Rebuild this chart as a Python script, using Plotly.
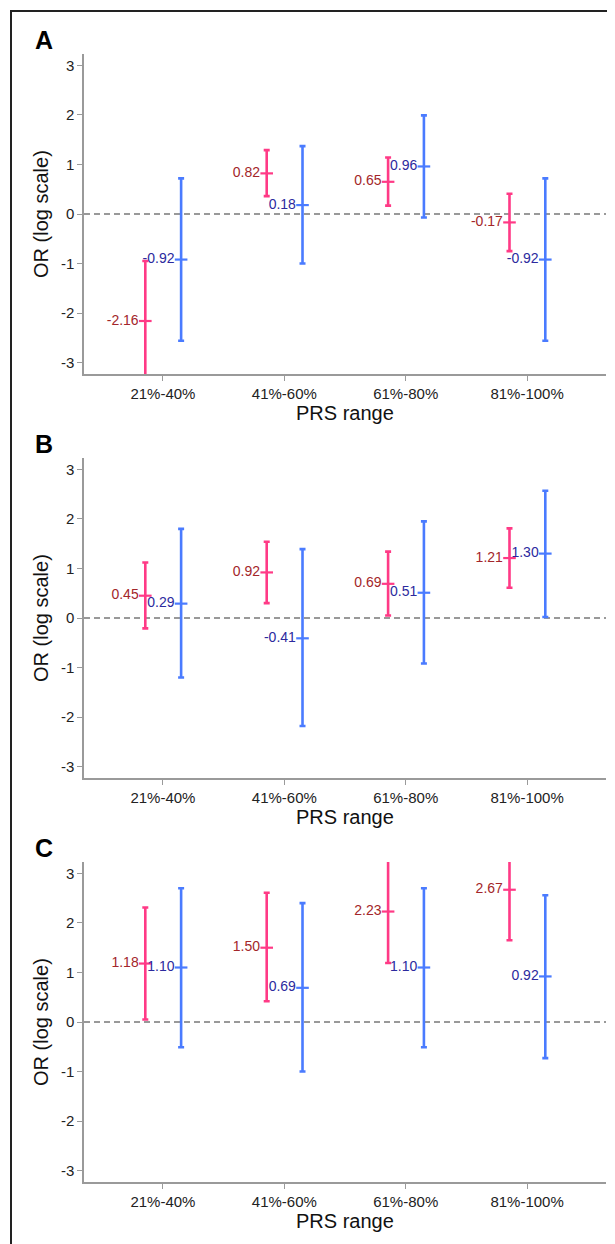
import plotly.graph_objects as go

# page has an 8px body margin; figure is sized/positioned to compensate
OFF = 8
W, H = 615 - OFF, 1244 - OFF

categories = ["21%-40%", "41%-60%", "61%-80%", "81%-100%"]
panels = ["A", "B", "C"]

# Panel A
a_red = [-2.16, 0.82, 0.65, -0.17]
a_red_lo = [-3.37, 0.36, 0.17, -0.75]
a_red_hi = [-0.95, 1.29, 1.14, 0.41]
a_blue = [-0.92, 0.18, 0.96, -0.92]
a_blue_lo = [-2.56, -1.00, -0.07, -2.56]
a_blue_hi = [0.72, 1.37, 1.99, 0.72]

# Panel B
b_red = [0.45, 0.92, 0.69, 1.21]
b_red_lo = [-0.21, 0.30, 0.05, 0.61]
b_red_hi = [1.12, 1.54, 1.34, 1.81]
b_blue = [0.29, -0.41, 0.51, 1.30]
b_blue_lo = [-1.20, -2.18, -0.92, 0.02]
b_blue_hi = [1.80, 1.39, 1.95, 2.57]

# Panel C
c_red = [1.18, 1.50, 2.23, 2.67]
c_red_lo = [0.05, 0.42, 1.19, 1.65]
c_red_hi = [2.31, 2.61, 3.28, 3.69]
c_blue = [1.10, 0.69, 1.10, 0.92]
c_blue_lo = [-0.51, -1.00, -0.51, -0.73]
c_blue_hi = [2.70, 2.40, 2.70, 2.56]

data = [
    (a_red, a_red_lo, a_red_hi, a_blue, a_blue_lo, a_blue_hi),
    (b_red, b_red_lo, b_red_hi, b_blue, b_blue_lo, b_blue_hi),
    (c_red, c_red_lo, c_red_hi, c_blue, c_blue_lo, c_blue_hi),
]

y_ticks = [-3, -2, -1, 0, 1, 2, 3]
YR = [-3.23, 3.23]
XR = [0.35, 4.65]
RED_OFF, BLUE_OFF = -0.145, 0.15

PINK = "#FF3A86"
BLUE = "#4A7BFF"
RED_TXT = "#A3262A"
BLUE_TXT = "#2C2A9E"
AXIS_COL = "#9A9A9A"
FONT = "Liberation Sans, Arial, sans-serif"

# target page-pixel layout of the three plot areas (top, bottom)
px_left, px_right = 84 - OFF, 606 - OFF
panel_px = [(54 - OFF, 374 - OFF), (458 - OFF, 778 - OFF), (862 - OFF, 1182 - OFF)]

fig = go.Figure()
annotations = []
shapes = []

for i, (name, (r, rlo, rhi, b, blo, bhi), (pt, pb)) in enumerate(zip(panels, data, panel_px)):
    k = "" if i == 0 else str(i + 1)
    xa, ya = "x" + k, "y" + k
    xpos = list(range(1, len(categories) + 1))
    for vals, lo, hi, off, col, tcol in [
        (r, rlo, rhi, RED_OFF, PINK, RED_TXT),
        (b, blo, bhi, BLUE_OFF, BLUE, BLUE_TXT),
    ]:
        fig.add_trace(go.Scatter(
            x=[p + off for p in xpos], y=vals,
            mode="markers+text",
            marker=dict(symbol="line-ew", size=9, color=col, line=dict(color=col, width=2.2)),
            error_y=dict(type="data", symmetric=False,
                         array=[h - v for h, v in zip(hi, vals)],
                         arrayminus=[v - l for v, l in zip(vals, lo)],
                         color=col, thickness=2.6, width=3),
            text=[f"{v:.2f}" for v in vals],
            textposition="middle left",
            textfont=dict(family=FONT, size=14, color=tcol),
            cliponaxis=False,
            showlegend=False, hoverinfo="skip",
            xaxis=xa, yaxis=ya,
        ))
    ydom = [1 - pb / H, 1 - pt / H]
    xdom = [px_left / W, px_right / W]
    fig.layout["xaxis" + k] = dict(
        domain=xdom, range=XR, anchor=ya,
        tickmode="array", tickvals=xpos, ticktext=categories,
        showline=True, linecolor=AXIS_COL, linewidth=1.5,
        ticks="outside", ticklen=5, tickcolor=AXIS_COL,
        showgrid=False, zeroline=False,
        tickfont=dict(family=FONT, size=15, color="#222"),
        fixedrange=True,
    )
    fig.layout["yaxis" + k] = dict(
        domain=ydom, range=YR, anchor=xa,
        tickmode="array", tickvals=y_ticks, ticktext=[str(t) for t in y_ticks],
        showline=True, linecolor=AXIS_COL, linewidth=1.5,
        ticks="outside", ticklen=5, tickcolor=AXIS_COL,
        showgrid=False, zeroline=False,
        tickfont=dict(family=FONT, size=15, color="#222"),
        fixedrange=True,
    )
    shapes.append(dict(type="line", xref=xa + " domain", yref=ya, x0=0, x1=1, y0=0, y1=0,
                       line=dict(color="#999999", width=2, dash="6px,4px"), layer="below"))
    # panel letter
    annotations.append(dict(text=f"<b>{name}</b>", xref="paper", yref="paper",
                            x=(33 - OFF) / W, y=1 - (pt - 14) / H, xanchor="left", yanchor="middle",
                            showarrow=False, font=dict(family=FONT, size=25, color="#000")))
    # y title
    annotations.append(dict(text="OR (log scale)", xref="paper", yref="paper",
                            x=(41 - OFF) / W, y=1 - ((pt + pb) / 2) / H, textangle=-90,
                            xanchor="center", yanchor="middle", showarrow=False,
                            font=dict(family=FONT, size=20, color="#111")))
    # x title
    annotations.append(dict(text="PRS range", xref="paper", yref="paper",
                            x=(345 - OFF) / W, y=1 - (pb + 39) / H,
                            xanchor="center", yanchor="middle", showarrow=False,
                            font=dict(family=FONT, size=20, color="#111")))

# outer frame (extends past right and bottom edges)
shapes.append(dict(type="rect", xref="paper", yref="paper",
                   x0=(11 - OFF) / W, x1=1.02, y0=-0.02, y1=1 - (11 - OFF) / H,
                   line=dict(color="#222", width=2)))

fig.update_layout(
    width=W, height=H,
    margin=dict(l=0, r=0, t=0, b=0),
    paper_bgcolor="white", plot_bgcolor="white",
    shapes=shapes, annotations=annotations,
    showlegend=False,
)

fig.write_html("out.html")
